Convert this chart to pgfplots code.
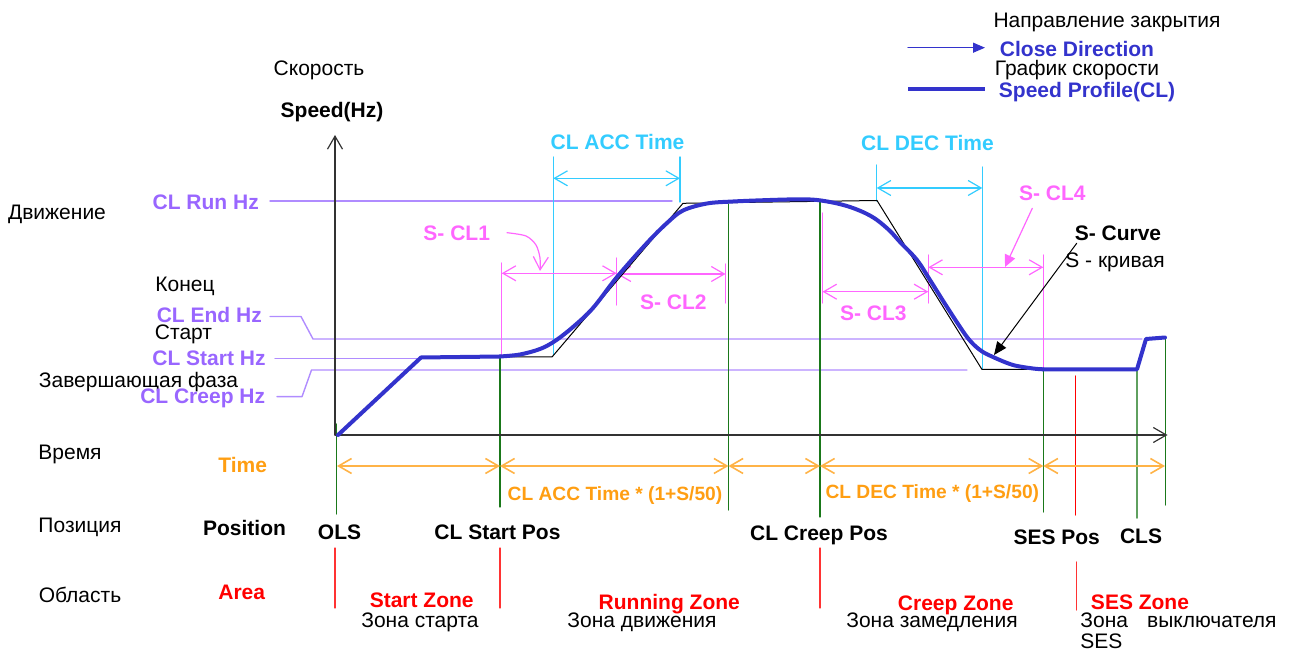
\documentclass[border=0pt]{standalone}
\usepackage{pgfplots}
\pgfplotsset{compat=1.18}
\usepackage{fontspec}
\setmainfont{Liberation Sans}
\usetikzlibrary{arrows.meta}
\definecolor{cblue}{HTML}{3333CC}
\definecolor{cpurp}{HTML}{9966FF}
\definecolor{cpurpl}{HTML}{B08CFF}
\definecolor{cmag}{HTML}{FF66FF}
\definecolor{ccyan}{HTML}{33CCFF}
\definecolor{corange}{HTML}{FF9E12}
\definecolor{corangel}{HTML}{FFB347}
\definecolor{cgreen}{HTML}{1A781A}
\definecolor{cred}{HTML}{FF0000}
\definecolor{credl}{HTML}{FF3333}
\definecolor{caxis}{HTML}{333333}
\begin{document}
\begin{tikzpicture}[
  lbl/.style={inner sep=0pt, font=\fontsize{10.5}{12}\selectfont, text height=7.5pt, text depth=0pt},
  blbl/.style={lbl, font=\fontsize{10.5}{12}\selectfont\bfseries},
  olbl/.style={inner sep=0pt, font=\fontsize{9.6}{11}\selectfont\bfseries, text height=6.9pt, text depth=0pt, text=corange},
  >={Straight Barb[length=6.5pt,width=7.5pt]}
]
\begin{axis}[
  scale only axis, width=645.5pt, height=325.5pt,
  xmin=0, xmax=1291, ymin=0, ymax=651, y dir=reverse,
  hide axis, clip=false,
  every axis plot/.append style={line cap=round, line join=round}
]
\path (axis cs:0,0) rectangle (axis cs:1291,651);

% purple reference levels
\addplot[cpurpl, line width=0.7pt] coordinates {(270,201) (672,201)};
\addplot[cpurpl, line width=0.7pt] coordinates {(270,316.5) (301,316.5) (313,339) (1142,339)};
\addplot[cpurpl, line width=0.7pt] coordinates {(275,358.3) (420,358.3)};
\addplot[cpurpl, line width=0.7pt] coordinates {(277,396.7) (302,396.7) (311.5,370) (967,370)};

% green verticals
\addplot[cgreen, line width=0.6pt] coordinates {(336.5,424) (336.5,514)};
\addplot[cgreen, line width=0.6pt] coordinates {(500,357) (500,507)};
\addplot[cgreen, line width=0.6pt] coordinates {(728.5,204) (728.5,510)};
\addplot[cgreen, line width=0.6pt] coordinates {(820,201) (820,517)};
\addplot[cgreen, line width=0.6pt] coordinates {(1043.3,370) (1043.3,512)};
\addplot[cgreen!70!white, line width=0.8pt] coordinates {(1137,370) (1137,518)};
\addplot[cgreen, line width=0.6pt] coordinates {(1165.5,337) (1165.5,505)};

% red verticals
\addplot[credl, line width=0.6pt] coordinates {(335,548) (335,608)};
\addplot[credl, line width=0.6pt] coordinates {(500,548) (500,608)};
\addplot[credl, line width=0.6pt] coordinates {(820,548) (820,608)};
\addplot[credl, line width=0.6pt] coordinates {(1076.5,562) (1076.5,610)};
\addplot[cred, line width=0.6pt] coordinates {(1075.7,376) (1075.7,515)};

% cyan ACC / DEC time
\addplot[ccyan, line width=0.7pt] coordinates {(553.3,157) (553.3,355)};
\addplot[ccyan, line width=0.7pt] coordinates {(680,157) (680,202)};
\addplot[ccyan, line width=0.6pt, <->] coordinates {(553.3,178.3) (680,178.3)};
\addplot[ccyan, line width=0.7pt] coordinates {(876.7,165) (876.7,201)};
\addplot[ccyan, line width=0.7pt] coordinates {(982.3,167) (982.3,369)};
\addplot[ccyan, line width=0.6pt, <->] coordinates {(876.7,188) (982.3,188)};

% magenta S-curve segments
\addplot[cmag, line width=0.6pt] coordinates {(501.7,263) (501.7,355)};
\addplot[cmag, line width=0.6pt] coordinates {(616.7,258) (616.7,305)};
\addplot[cmag, line width=0.6pt] coordinates {(725.5,264) (725.5,303)};
\addplot[cmag, line width=0.6pt, <->] coordinates {(501.7,273.3) (616.7,273.3)};
\addplot[cmag, line width=0.6pt, <->] coordinates {(616.7,274) (725.5,274)};
\addplot[cmag, line width=0.6pt] coordinates {(822.5,213) (822.5,303)};
\addplot[cmag, line width=0.6pt] coordinates {(928.3,255) (928.3,303)};
\addplot[cmag, line width=0.6pt, <->] coordinates {(822.5,291.7) (928.3,291.7)};
\addplot[cmag, line width=0.6pt, <->] coordinates {(928.3,267.3) (1043.3,267.3)};
\addplot[cmag, line width=0.6pt] coordinates {(1043.3,255) (1043.3,370)};
\addplot[cmag, line width=0.6pt, smooth, ->] coordinates {(507,232.7) (526,236) (536,245) (540,258) (540,271)};
\addplot[cmag, line width=0.6pt, -{Triangle[length=6pt,width=5.5pt]}] coordinates {(1032.3,208.3) (1005,267)};

% orange time arrows
\addplot[corangel, line width=0.8pt, <->] coordinates {(337,466) (500,466)};
\addplot[corangel, line width=0.8pt, <->] coordinates {(500,466) (728.5,466)};
\addplot[corangel, line width=0.8pt, <->] coordinates {(728.5,466) (820,466)};
\addplot[corangel, line width=0.8pt, <->] coordinates {(820,466) (1043.3,466)};
\addplot[corangel, line width=0.8pt, <->] coordinates {(1043.3,466) (1165,466)};

% main axes
\addplot[caxis, line width=0.6pt, ->] coordinates {(335,435) (335,135)};
\addplot[caxis, line width=0.6pt, ->] coordinates {(335,435) (1167.5,435)};

% ideal trapezoid profile
\addplot[black, line width=0.5pt] coordinates {(500,357) (552,357) (683,203.3) (877,200.5) (982,369.5) (1027,369.5)};

% S-curve arrow
\addplot[black, line width=0.5pt, -{Triangle[length=6.5pt,width=5.5pt]}] coordinates {(1076.7,243.3) (994,355)};

% speed profile (CL)
\addplot[cblue, line width=2pt] coordinates {(338,435) (421,357.5) (500,356.5)};
\addplot[cblue, line width=2pt, smooth, tension=0.55] coordinates {
(500,356.5) (520,354.5) (540,349) (555,341) (573,327) (593,308) (617,277) (647,243)
(667,223) (683,210.5) (707,203.5) (733,201.5) (770,200) (800,199.3) (817,200)
(835,203) (850,207) (865,213) (877,220) (890,231) (900,242) (917,260) (930,280)
(947,307) (967,337) (980,350) (993,357) (1013,365) (1033,368.5) (1043,369.3)};
\addplot[cblue, line width=2pt] coordinates {(1043,369.3) (1137,369.3) (1146,339) (1165,337.5)};

% legend
\addplot[cblue, line width=0.6pt, -{Triangle[length=6pt,width=5pt]}] coordinates {(908,47.7) (985,47.7)};
\addplot[cblue, line width=2pt, line cap=butt] coordinates {(908,89.3) (985,89.3)};
\node[lbl] at (axis cs:1107,20) {Направление закрытия};
\node[blbl, text=cblue] at (axis cs:1077,49) {Close Direction};
\node[lbl] at (axis cs:1077,68.5) {График скорости};
\node[blbl, text=cblue] at (axis cs:1087,90) {Speed Profile(CL)};

% left side labels
\node[lbl] at (axis cs:319,68.5) {Скорость};
\node[blbl] at (axis cs:332,110) {Speed(Hz)};
\node[lbl] at (axis cs:57,212) {Движение};
\node[blbl, text=cpurp] at (axis cs:205.7,202) {CL Run Hz};
\node[lbl] at (axis cs:185,284) {Конец};
\node[blbl, text=cpurp] at (axis cs:209.3,315.5) {CL End Hz};
\node[lbl] at (axis cs:183.5,332) {Старт};
\node[blbl, text=cpurp] at (axis cs:209,358.5) {CL Start Hz};
\node[lbl] at (axis cs:138.5,380) {Завершающая фаза};
\node[blbl, text=cpurp] at (axis cs:202.7,396) {CL Creep Hz};
\node[lbl] at (axis cs:70,452) {Время};
\node[blbl, text=corange] at (axis cs:242.7,465) {Time};
\node[lbl] at (axis cs:80,525) {Позиция};
\node[blbl] at (axis cs:244.5,528.5) {Position};
\node[lbl] at (axis cs:80,595) {Область};
\node[blbl, text=cred] at (axis cs:241.7,591.7) {Area};

% annotations in plot
\node[blbl, text=ccyan] at (axis cs:617.5,142) {CL ACC Time};
\node[blbl, text=ccyan] at (axis cs:927.5,143.3) {CL DEC Time};
\node[blbl, text=cmag] at (axis cs:456.7,233.3) {S- CL1};
\node[blbl, text=cmag] at (axis cs:673.3,302) {S- CL2};
\node[blbl, text=cmag] at (axis cs:873.3,313.5) {S- CL3};
\node[blbl, text=cmag] at (axis cs:1052.3,193) {S- CL4};
\node[blbl] at (axis cs:1118,233.5) {S- Curve};
\node[lbl] at (axis cs:1115,260) {S - кривая};

% time row
\node[olbl] at (axis cs:615,493.5) {CL ACC Time * (1+S/50)};
\node[olbl] at (axis cs:932.3,492) {CL DEC Time * (1+S/50)};

% positions
\node[blbl] at (axis cs:339.5,532.5) {OLS};
\node[blbl] at (axis cs:497.5,532.5) {CL Start Pos};
\node[blbl] at (axis cs:819,533) {CL Creep Pos};
\node[blbl] at (axis cs:1056.7,537) {SES Pos};
\node[blbl] at (axis cs:1141,536.5) {CLS};

% zones
\node[blbl, text=cred] at (axis cs:421.7,600) {Start Zone};
\node[lbl] at (axis cs:420,620) {Зона старта};
\node[blbl, text=cred] at (axis cs:669.3,601.7) {Running Zone};
\node[lbl] at (axis cs:642,620) {Зона движения};
\node[blbl, text=cred] at (axis cs:955.7,602.7) {Creep Zone};
\node[lbl] at (axis cs:932,620) {Зона замедления};
\node[blbl, text=cred] at (axis cs:1140,601.7) {SES Zone};
\node[lbl, anchor=west] at (axis cs:1080,620) {Зона};
\node[lbl, anchor=east] at (axis cs:1277,620) {выключателя};
\node[lbl, anchor=west] at (axis cs:1080,641) {SES};
\end{axis}
\end{tikzpicture}
\end{document}
